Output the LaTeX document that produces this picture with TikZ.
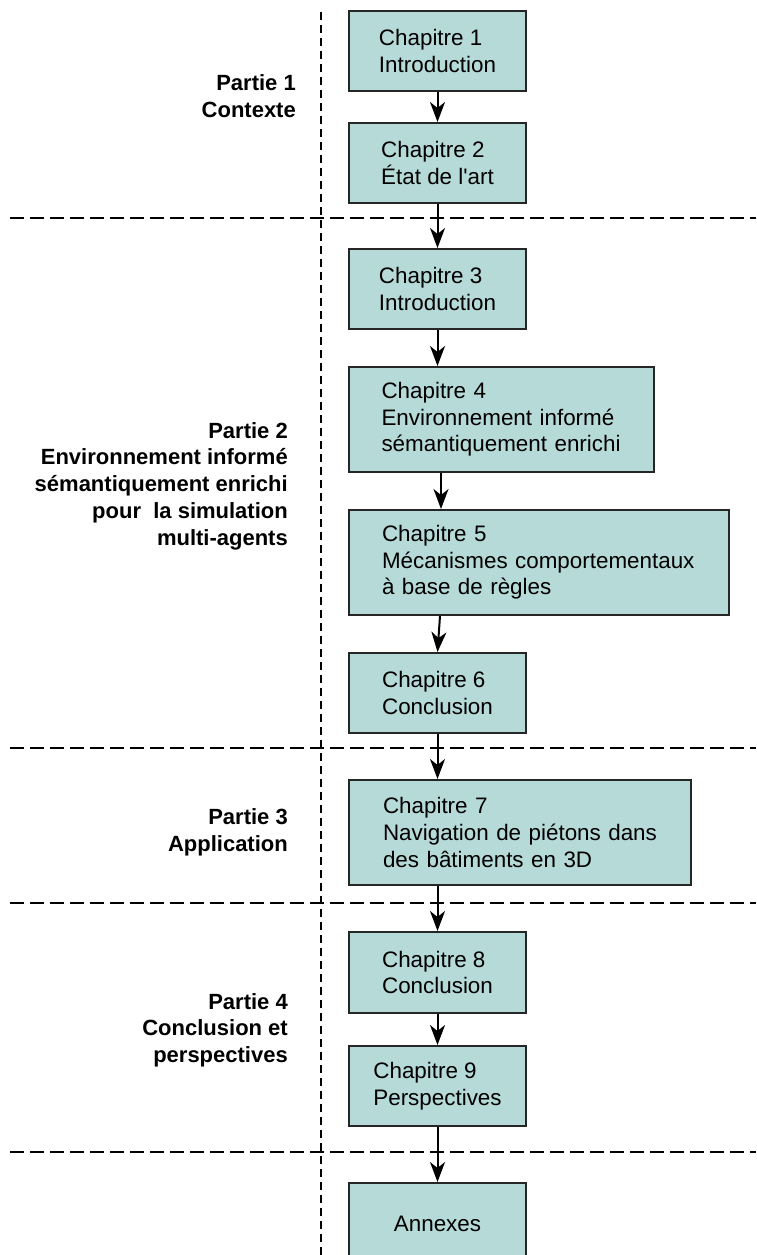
\documentclass[tikz,border=0pt]{standalone}
\usepackage{fontspec}
\setmainfont{Liberation Sans}
\usetikzlibrary{arrows.meta}
\definecolor{caixa}{RGB}{181,218,215}

\begin{document}
\begin{tikzpicture}[x=1pt,y=-1pt,
	chapitre/.style={draw=black!85, line width=2pt, fill=caixa, align=left, anchor=north west,
		inner xsep=0pt, inner ysep=0pt, font=\fontsize{22.4}{26.7}\selectfont},
	partie/.style={align=right, anchor=east, inner xsep=0pt, font=\fontsize{22}{26.7}\selectfont\bfseries},
	fluxo/.style={-{Stealth[length=20pt,width=15pt,inset=6pt]}, line width=2pt},
	divisao/.style={line width=1.6pt, dash pattern=on 14pt off 6pt}]
	
	\useasboundingbox (0,0) rectangle (756,1255);
	\clip (0,0) rectangle (756,1255);
	
	% Separações entre as partes
	\draw[line width=1.6pt, dash pattern=on 8pt off 5pt] (321,12) -- (321,1255);
	\draw[divisao] (10,218) -- (756,218);
	\draw[divisao] (10,748) -- (756,748);
	\draw[divisao] (10,903) -- (756,903);
	\draw[divisao] (10,1152) -- (756,1152);
	
	% Partes
	\node[partie] (p1) at (296,96) {Partie 1\\Contexte};
	\node[partie] (p2) at (288,486) {Partie 2\\Environnement informé\\sémantiquement enrichi\\pour\ \ la simulation\\multi-agents};
	\node[partie] (p3) at (288,832) {Partie 3\\Application};
	\node[partie] (p4) at (288,1030) {Partie 4\\Conclusion et\\perspectives};
	
	% Chapitres
	\node[chapitre, minimum width=177, minimum height=80] (c1) at (348,10) {Chapitre 1\\Introduction};
	\node[chapitre, minimum width=177, minimum height=80] (c2) at (348,122) {Chapitre 2\\État de l\textquotesingle art};
	\node[chapitre, minimum width=177, minimum height=80] (c3) at (348,248) {Chapitre 3\\Introduction};
	\node[chapitre, minimum width=305, minimum height=105, text width=240] (c4) at (348,366) {Chapitre 4\\Environnement informé\\sémantiquement enrichi};
	\node[chapitre, minimum width=380, minimum height=105, text width=314] (c5) at (348,509) {Chapitre 5\\Mécanismes comportementaux\\à base de règles};
	\node[chapitre, minimum width=177, minimum height=80] (c6) at (348,652) {Chapitre 6\\Conclusion};
	\node[chapitre, minimum width=342, minimum height=105, text width=274] (c7) at (348,779) {Chapitre 7\\Navigation de piétons dans\\des bâtiments en 3D};
	\node[chapitre, minimum width=177, minimum height=81] (c8) at (348,931) {Chapitre 8\\Conclusion};
	\node[chapitre, minimum width=177, minimum height=80] (c9) at (348,1045) {Chapitre 9\\Perspectives};
	\node[chapitre, minimum width=177, minimum height=82] (an) at (348,1182) {Annexes};
	
	% Setas
	\draw[fluxo] (c1) -- (c2);
	\draw[fluxo] (c2) -- (c3);
	\draw[fluxo] (c3.south) -- (c3.south |- c4.north);
	\draw[fluxo] ([xshift=93pt]c4.south west) -- ([xshift=93pt]c5.north west);
	\draw[fluxo] ([xshift=92pt]c5.south west) -- (c6.north);
	\draw[fluxo] (c6.south) -- (c6.south |- c7.north);
	\draw[fluxo] (c7.south -| c8.north) -- (c8.north);
	\draw[fluxo] (c8) -- (c9);
	\draw[fluxo] (c9) -- (an);
	
\end{tikzpicture}
\end{document}
